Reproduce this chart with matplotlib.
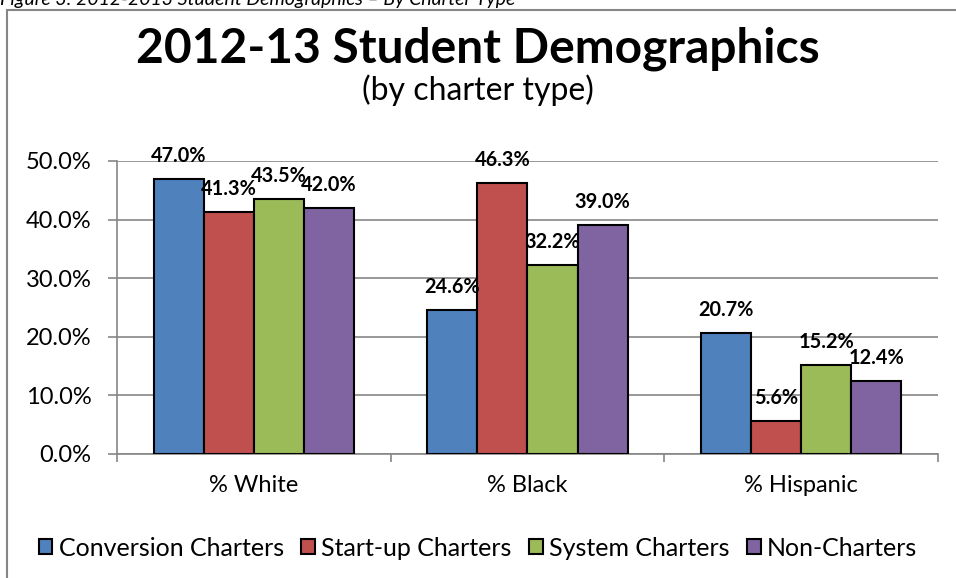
import numpy as np
import matplotlib
matplotlib.use('Agg')
from matplotlib import pyplot as plt
from matplotlib.patches import Rectangle, Patch

plt.rcParams['font.family'] = ['Lato', 'DejaVu Sans']

categories = ['% White', '% Black', '% Hispanic']
series = ['Conversion Charters', 'Start-up Charters', 'System Charters', 'Non-Charters']
conversion = [47.0, 24.6, 20.7]
startup = [41.3, 46.3, 5.6]
system = [43.5, 32.2, 15.2]
noncharter = [42.0, 39.0, 12.4]
yticks = [0, 10, 20, 30, 40, 50]

values = [conversion, startup, system, noncharter]
colors = ['#4F81BD', '#C0504D', '#9BBB59', '#8064A2']
grid_c = '#868686'

fig = plt.figure(figsize=(9.56, 5.78), dpi=100)
ax = fig.add_axes([117 / 956, (578 - 454) / 578, 821 / 956, (454 - 161) / 578])

x = np.arange(len(categories))
w = 0.183
for i, (vals, c) in enumerate(zip(values, colors)):
    pos = x + (i - 1.5) * w
    ax.bar(pos, vals, w, color=c, edgecolor='black', linewidth=1.5, zorder=3)
    for px, v in zip(pos, vals):
        ax.annotate('%.1f%%' % v, (px, v), xytext=(0, 23), textcoords='offset pixels',
                    ha='center', va='center', fontsize=14.3, fontweight='bold', zorder=4)

ax.set_xlim(-0.5, 2.5)
ax.set_ylim(0, 50)
ax.set_yticks(yticks)
ax.set_yticklabels(['%.1f%%' % t for t in yticks], fontsize=17)
ax.set_xticks(x)
ax.set_xticklabels(categories, fontsize=17)
ax.set_xticks([-0.5, 0.5, 1.5, 2.5], minor=True)
ax.tick_params(axis='x', which='major', length=0, pad=15)
ax.tick_params(axis='x', which='minor', length=6, color=grid_c, width=1.2)
ax.tick_params(axis='y', length=6.5, color=grid_c, width=1.2, pad=12)
ax.yaxis.grid(True, color=grid_c, linewidth=1.2, zorder=0)
ax.set_axisbelow(True)
for s in ['top', 'right']:
    ax.spines[s].set_visible(False)
for s in ['left', 'bottom']:
    ax.spines[s].set_color(grid_c)
    ax.spines[s].set_linewidth(1.2)

# titles
fig.text(0.5, 1 - 49 / 578, '2012-13 Student Demographics', ha='center', va='center',
         fontsize=34.5, fontweight='bold')
fig.text(0.5, 1 - 90 / 578, '(by charter type)', ha='center', va='center', fontsize=23)
fig.text(0.0, 1 - 5 / 578, 'Figure 3: 2012-2013 Student Demographics \u2013 By Charter Type',
         ha='left', va='baseline', fontsize=14, style='italic')

handles = [Patch(facecolor=c, edgecolor='black', linewidth=1.5) for c in colors]
fig.legend(handles, series, loc='center', bbox_to_anchor=(0.5, 1 - 548 / 578), ncol=4,
           frameon=False, fontsize=18, handlelength=0.55, handleheight=0.55,
           handletextpad=0.25, columnspacing=0.7)

fig.patches.append(Rectangle((7 / 956, -0.05), 1.0, 1 - 10 / 578 + 0.05, transform=fig.transFigure,
                             fill=False, edgecolor=grid_c, linewidth=1.5))

fig.savefig('out.png', dpi=100)
